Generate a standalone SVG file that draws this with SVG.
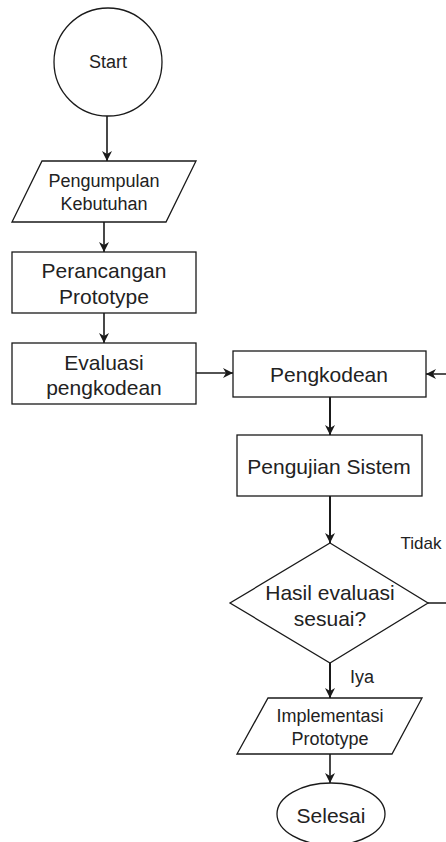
<svg xmlns="http://www.w3.org/2000/svg" width="446" height="842" viewBox="0 0 446 842">
<defs>
<style>
.s{fill:#fff;stroke:#1a1a1a;stroke-width:1.3}
.t{font-family:"Liberation Sans",Arial,sans-serif;fill:#222;text-anchor:middle;dominant-baseline:central}
.c{fill:none;stroke:#1a1a1a;stroke-width:1.6}
.c2{fill:none;stroke:#1a1a1a;stroke-width:2}
</style>
<marker id="a" viewBox="0 0 10 10" refX="10" refY="5" markerWidth="10" markerHeight="10" markerUnits="userSpaceOnUse" orient="auto">
<path d="M0,0 L10,5 L0,10 L3,5 z" fill="#1a1a1a"/>
</marker>
</defs>
<rect width="446" height="842" fill="#fff"/>
<g id="connectors">
<path class="c" d="M107,116 V161" marker-end="url(#a)"/>
<path class="c" d="M104,222 V252" marker-end="url(#a)"/>
<path class="c" d="M104,313 V343" marker-end="url(#a)"/>
<path class="c" d="M196,373 H233" marker-end="url(#a)"/>
<path class="c2" d="M330,397 V435" marker-end="url(#a)"/>
<path class="c2" d="M330,496 V543" marker-end="url(#a)"/>
<path class="c" d="M428,603 H452 V374 H426" marker-end="url(#a)"/>
<path class="c2" d="M330,663 V698" marker-end="url(#a)"/>
<path class="c" d="M330,754 V783" marker-end="url(#a)"/>
<text class="t" x="421" y="543" font-size="17">Tidak</text>
<text class="t" x="362" y="677" font-size="18">Iya</text>
</g>
<g id="start">
<circle class="s" cx="108" cy="62" r="54"/>
<text class="t" x="108" y="62" font-size="18">Start</text>
</g>
<g id="pengumpulan">
<polygon class="s" points="42,161 196,161 166,222 12,222"/>
<text class="t" x="104" y="181" font-size="18">Pengumpulan</text>
<text class="t" x="104" y="204" font-size="18">Kebutuhan</text>
</g>
<g id="perancangan">
<rect class="s" x="12" y="252" width="184" height="61"/>
<text class="t" x="104" y="270" font-size="21">Perancangan</text>
<text class="t" x="104" y="296" font-size="21">Prototype</text>
</g>
<g id="evaluasi">
<rect class="s" x="12" y="343" width="184" height="61"/>
<text class="t" x="104" y="362" font-size="21">Evaluasi</text>
<text class="t" x="104" y="387" font-size="21">pengkodean</text>
</g>
<g id="pengkodean">
<rect class="s" x="233" y="351" width="193" height="46"/>
<text class="t" x="329" y="374" font-size="21">Pengkodean</text>
</g>
<g id="pengujian">
<rect class="s" x="237" y="435" width="185" height="61"/>
<text class="t" x="329" y="466" font-size="21">Pengujian Sistem</text>
</g>
<g id="keputusan">
<polygon class="s" points="330,543 428,603 330,663 230,603"/>
<text class="t" x="330" y="592" font-size="21">Hasil evaluasi</text>
<text class="t" x="330" y="618" font-size="21">sesuai?</text>
</g>
<g id="implementasi">
<polygon class="s" points="268,698 422,698 392,754 237,754"/>
<text class="t" x="330" y="716" font-size="18">Implementasi</text>
<text class="t" x="330" y="739" font-size="18">Prototype</text>
</g>
<g id="selesai">
<ellipse class="s" cx="331" cy="814" rx="54" ry="31"/>
<text class="t" x="331" y="815" font-size="21">Selesai</text>
</g>
</svg>
